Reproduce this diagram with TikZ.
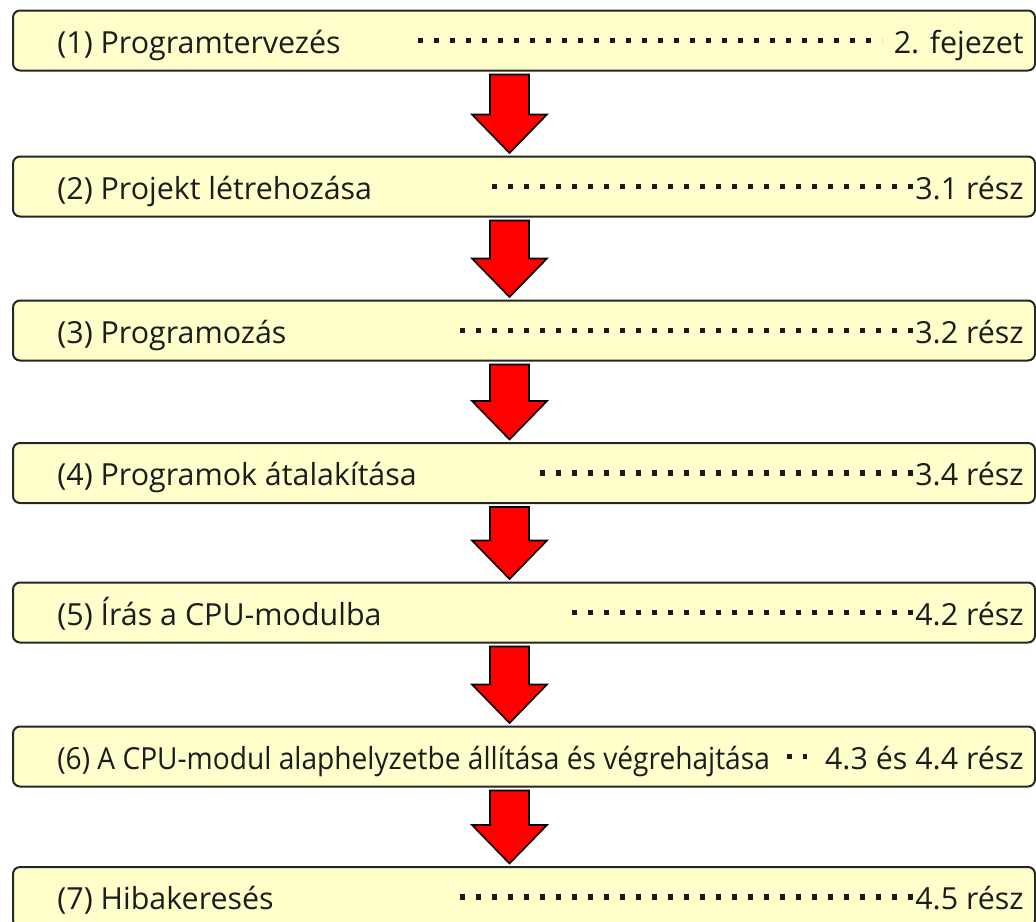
\documentclass[tikz,border=0pt]{standalone}
\usepackage{fontspec}
\setmainfont{Open Sans}
\usetikzlibrary{calc}
\definecolor{boxfill}{HTML}{FFFFCC}
\definecolor{boxline}{HTML}{262626}
\definecolor{txt}{HTML}{1C1C1C}
\newcommand\flowarr[2]{%
  \draw[arr] ($(#1.south -| ax)+(-19.5,3)$) -- ($(#2.north -| ax)+(-19.5,-41)$)
    -- ($(#2.north -| ax)+(-37.5,-41)$) -- ($(#2.north -| ax)+(0,-2.5)$)
    -- ($(#2.north -| ax)+(37.5,-41)$) -- ($(#2.north -| ax)+(19.5,-41)$)
    -- ($(#1.south -| ax)+(19.5,3)$) -- cycle;}
\begin{document}
\begin{tikzpicture}[x=0.5pt,y=-0.5pt,
  box/.style={draw=boxline, line width=1pt, fill=boxfill, rounded corners=3.5pt,
    minimum width=511pt, minimum height=30pt, inner sep=0pt},
  lbl/.style={anchor=base west, inner sep=0pt, text=txt, font=\fontsize{15.2}{17}\selectfont},
  reflbl/.style={anchor=base east, inner sep=0pt, text=txt, font=\fontsize{15.2}{17}\selectfont},
  dots/.style={line width=2.6pt, dash pattern=on 2.4pt off 5.6pt, color=black!90},
  arr/.style={fill=red, draw=black, line width=0.8pt, line join=miter}]
\useasboundingbox (0,0) rectangle (1036,921);
\clip (0,0) rectangle (1036,921);
\coordinate (ax) at (509.5,0);
% boxes: name / center y
\foreach \n/\cy in {b1/40.5, b2/186.5, b3/330.5, b4/473, b5/612.5, b6/756.5, b7/897}{
  \node[box] (\n) at (524,\cy) {};
}
% left labels
\node[lbl] (t1) at ($(b1.center -| 57,0)+(0,12.5)$) {(1) Programtervezés};
\node[lbl] (t2) at ($(b2.center -| 57,0)+(0,12.5)$) {(2) Projekt létrehozása};
\node[lbl] (t3) at ($(b3.center -| 57,0)+(0,12.5)$) {(3) Programozás};
\node[lbl] (t4) at ($(b4.center -| 57,0)+(0,12.5)$) {(4) Programok átalakítása};
\node[lbl] (t5) at ($(b5.center -| 57,0)+(0,12.5)$) {(5) Írás a CPU-modulba};
\node[lbl] (t6) at ($(b6.center -| 57,0)+(0,12.5)$) {\scalebox{0.925}[1]{(6) A CPU-modul alaphelyzetbe állítása és végrehajtása}};
\node[lbl] (t7) at ($(b7.center -| 57,0)+(0,12.5)$) {(7) Hibakeresés};
% right labels
\node[reflbl] (r1) at ($(b1.center -| 1024,0)+(0,12.5)$) {2. fejezet};
\node[reflbl] (r2) at ($(b2.center -| 1024,0)+(0,12.5)$) {3.1 rész};
\node[reflbl] (r3) at ($(b3.center -| 1024,0)+(0,12.5)$) {3.2 rész};
\node[reflbl] (r4) at ($(b4.center -| 1024,0)+(0,12.5)$) {3.4 rész};
\node[reflbl] (r5) at ($(b5.center -| 1024,0)+(0,12.5)$) {4.2 rész};
\node[reflbl] (r6) at ($(b6.center -| 1024,0)+(0,12.5)$) {4.3 és 4.4 rész};
\node[reflbl] (r7) at ($(b7.center -| 1024,0)+(0,12.5)$) {4.5 rész};
% dotted leaders
\draw[dots] (b1.center -| 418,0) -- (b1.center -| 882,0);
\draw[dots] (b2.center -| 492,0) -- (b2.center -| 913,0);
\draw[dots] (b3.center -| 460,0) -- (b3.center -| 913,0);
\draw[dots] (b4.center -| 540,0) -- (b4.center -| 913,0);
\draw[dots] (b5.center -| 572,0) -- (b5.center -| 913,0);
\draw[dots] (b6.center -| 787,0) -- (b6.center -| 807,0);
\draw[dots] (b7.center -| 460,0) -- (b7.center -| 913,0);
% arrows
\flowarr{b1}{b2}
\flowarr{b2}{b3}
\flowarr{b3}{b4}
\flowarr{b4}{b5}
\flowarr{b5}{b6}
\flowarr{b6}{b7}
\end{tikzpicture}
\end{document}
